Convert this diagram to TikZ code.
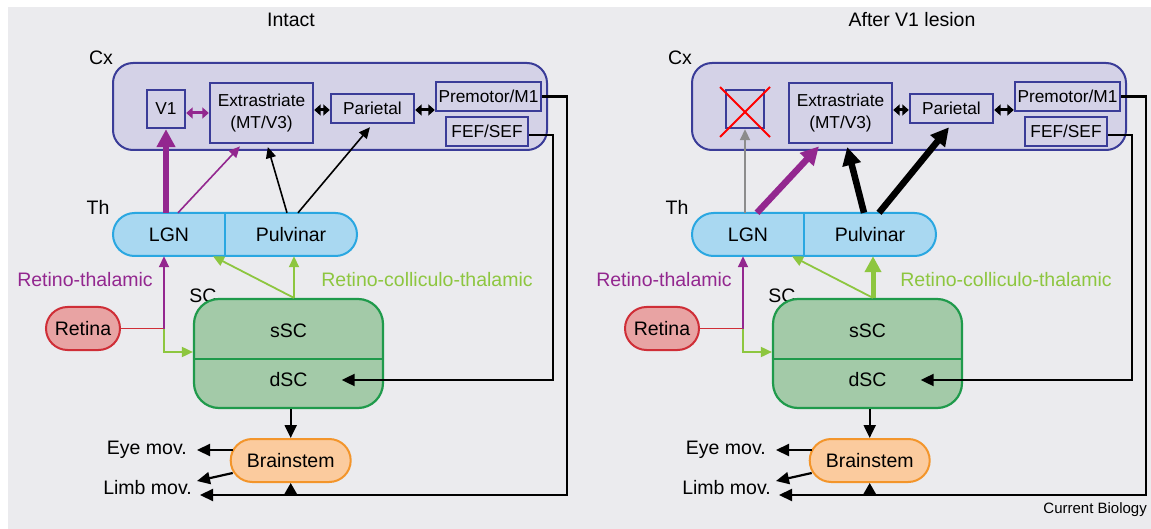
\documentclass[tikz,border=0pt]{standalone}
\usepackage{fontspec}
\setmainfont{Liberation Sans}
\usetikzlibrary{arrows.meta}
\definecolor{bg}{HTML}{EBEBEE}
\definecolor{cxfill}{HTML}{D4D2E7}
\definecolor{cxline}{HTML}{3A3C98}
\definecolor{thfill}{HTML}{A9D8F1}
\definecolor{thline}{HTML}{2AA7E1}
\definecolor{scfill}{HTML}{A3CAA8}
\definecolor{scline}{HTML}{1F9A4B}
\definecolor{retfill}{HTML}{E8A3A3}
\definecolor{retline}{HTML}{CF2E37}
\definecolor{bsfill}{HTML}{FBCB9E}
\definecolor{bsline}{HTML}{F3952B}
\definecolor{purp}{HTML}{93278F}
\definecolor{grn}{HTML}{8DC63F}
\definecolor{gry}{HTML}{8C8C8C}
\tikzset{
  region/.style={draw=cxline, fill=cxfill, line width=2pt, rounded corners=20pt, inner sep=0pt},
  area/.style={draw=cxline, fill=cxfill, line width=2.4pt, inner sep=0pt, align=center,
    font=\fontsize{17.3}{21.6}\selectfont},
  pill/.style={line width=2pt, rounded corners=21.5pt, minimum height=43pt, inner sep=0pt,
    font=\fontsize{19.5}{22}\selectfont},
  lab/.style={inner sep=0pt, font=\fontsize{19.5}{22}\selectfont},
  tipS/.style={-{Triangle[length=11pt,width=10pt]}},
  tipM/.style={-{Triangle[length=13pt,width=12pt]}},
  tipL/.style={-{Triangle[length=18pt,width=18pt]}},
  dbl/.style={line width=3pt, {Triangle[length=6.5pt,width=11pt]}-{Triangle[length=6.5pt,width=11pt]}},
  thin/.style={line width=1.6pt},
  conn/.style={line width=2.2pt, black},
}
\newcommand{\drawpanel}[3]{%
\begin{scope}[xshift=#3pt]
  \node[region, minimum width=434pt, minimum height=87pt] (cx#1) at (330,106.5) {};
  \node[lab] (cxl#1) at (101,58) {Cx};
  \node[area, minimum width=38pt, minimum height=38pt] (v1#1) at (166,109) {#2};
  \node[area, minimum width=103pt, minimum height=60pt] (ex#1) at (261.5,113) {Extrastriate\\(MT/V3)};
  \node[area, minimum width=83pt, minimum height=29pt] (par#1) at (372.5,108.5) {Parietal};
  \node[area, minimum width=105pt, minimum height=29pt] (pm#1) at (488.5,96.5) {Premotor/M1};
  \node[area, minimum width=82pt, minimum height=29pt] (fef#1) at (487,131.5) {FEF/SEF};
  \node[lab] (thl#1) at (98,207) {Th};
  \node[pill, draw=thline, fill=thfill, minimum width=244pt] (th#1) at (235,234.5) {};
  \node[lab, minimum width=112pt, minimum height=43pt] (lgn#1) at (169,234.5) {LGN};
  \node[lab, minimum width=132pt, minimum height=43pt] (pul#1) at (291,234.5) {Pulvinar};
  \draw[thline, line width=2pt] (lgn#1.north east) -- (lgn#1.south east);
  \node[lab, text=purp] (rt#1) at (85,280) {Retino-thalamic};
  \node[lab, text=grn] (rct#1) at (427,280) {Retino-colliculo-thalamic};
  \node[lab] (scl#1) at (203,296) {SC};
  \node[pill, draw=retline, fill=retfill, minimum width=74pt] (ret#1) at (83,328.5) {Retina};
  \node[draw=scline, fill=scfill, line width=2.2pt, rounded corners=25pt, minimum width=189pt,
        minimum height=109pt, inner sep=0pt] (sc#1) at (288.5,353.5) {};
  \draw[scline, line width=2.2pt] ([yshift=-5.5pt]sc#1.west) -- ([yshift=-5.5pt]sc#1.east);
  \node[lab] (ssc#1) at (288.5,331) {sSC};
  \node[lab, minimum width=106pt] (dsc#1) at (288.5,380) {dSC};
  \node[pill, draw=bsline, fill=bsfill, line width=2pt, minimum width=120pt] (bs#1) at (290.7,460.5) {Brainstem};
  \node[lab, anchor=east] (eye#1) at (187,450) {Eye mov.};
  \node[lab, anchor=east] (limb#1) at (192,488) {Limb mov.};
  \coordinate (j#1) at (164,328.5);
  \coordinate (g#1) at (164,352);
  \coordinate (c1#1) at (553,380);
  \coordinate (c2#1) at (567,495);
  \coordinate (lm#1) at (200,495);
  % common connectors
  \draw[retline, line width=1.8pt] (ret#1.east) -- (j#1);
  \draw[purp, line width=1.8pt, tipS] (j#1) -- (j#1 |- lgn#1.south);
  \draw[grn, line width=1.8pt, tipS] (j#1) -- (g#1) -- (g#1 -| sc#1.west);
  \draw[grn, line width=1.8pt, tipS] ([xshift=3pt]pul#1.south |- sc#1.north) -- ([xshift=44pt]lgn#1.south);
  \draw[black, dbl] ([yshift=-1.5pt]par#1.west -| ex#1.east) -- ([yshift=-1.5pt]par#1.west);
  \draw[black, dbl] ([yshift=-1.5pt]par#1.east) -- ([yshift=-1.5pt]par#1.east -| pm#1.west);
  \draw[conn, tipM] ([yshift=-3.5pt]fef#1.east) -| (c1#1) -- (dsc#1.east);
  \draw[conn, tipM] (pm#1.east) -| (c2#1) -- (lm#1);
  \draw[conn, -{Triangle[length=11pt,width=12pt]}] (bs#1.south |- c2#1) -- (bs#1.south);
  \draw[conn, tipM] (sc#1.south -| bs#1.north) -- (bs#1.north);
  \draw[conn, tipM] ([shift={(3pt,10.5pt)}]bs#1.west) -- ([xshift=10pt]eye#1.east);
  \draw[conn, tipM] ([shift={(3pt,-12.5pt)}]bs#1.west) -- ([shift={(5pt,7pt)}]limb#1.east);
\end{scope}}

\begin{document}
\begin{tikzpicture}[x=1pt,y=-1pt]
  \useasboundingbox (0,0) rectangle (1151,529);
  \fill[bg] (8,7) rectangle (1151,529);
  \node[lab] (t1) at (291,20) {Intact};
  \node[lab] (t2) at (912,20) {After V1 lesion};
  \drawpanel{L}{V1}{0}
  \drawpanel{R}{}{579}
  % intact panel
  \draw[purp, line width=6.5pt, tipL] (v1L.south |- lgnL.north) -- (v1L.south);
  \draw[purp, thin, tipS, shorten >=3pt] ([xshift=9pt]lgnL.north) -- ([xshift=-19.5pt]exL.south);
  \draw[black, thin, tipS, shorten >=3pt] ([xshift=-4pt]pulL.north) -- ([xshift=5.5pt]exL.south);
  \draw[black, thin, tipS, shorten >=4pt] ([xshift=7pt]pulL.north) -- (parL.south);
  \draw[purp, dbl] ([yshift=-4pt]v1L.east) -- ([yshift=-4pt]v1L.east -| exL.west);
  \draw[grn, line width=1.8pt, tipS] ([xshift=3pt]pulL.south |- scL.north) -- ([xshift=3pt]pulL.south);
  % lesion panel
  \draw[red, line width=1.8pt] ([shift={(-25pt,22pt)}]v1R.center) -- ([shift={(25pt,-28pt)}]v1R.center);
  \draw[red, line width=1.8pt] ([shift={(25pt,22pt)}]v1R.center) -- ([shift={(-25pt,-28pt)}]v1R.center);
  \draw[gry, line width=1.8pt, tipS] (v1R.south |- lgnR.north) -- (v1R.south);
  \draw[purp, line width=6.5pt, tipL, shorten >=3pt] ([xshift=9pt]lgnR.north) -- ([xshift=-19.5pt]exR.south);
  \draw[black, line width=6.5pt, tipL, shorten >=3pt] ([xshift=-6pt]pulR.north) -- ([xshift=6pt]exR.south);
  \draw[black, line width=6.5pt, tipL, shorten >=4pt] ([xshift=9pt]pulR.north) -- (parR.south);
  \draw[grn, line width=5pt, -{Triangle[length=16pt,width=16pt]}] ([xshift=3pt]pulR.south |- scR.north) -- ([xshift=3pt]pulR.south);
  \node[inner sep=0pt, anchor=east, font=\fontsize{15}{17}\selectfont] (cb) at (1147,510) {Current Biology};
\end{tikzpicture}
\end{document}
